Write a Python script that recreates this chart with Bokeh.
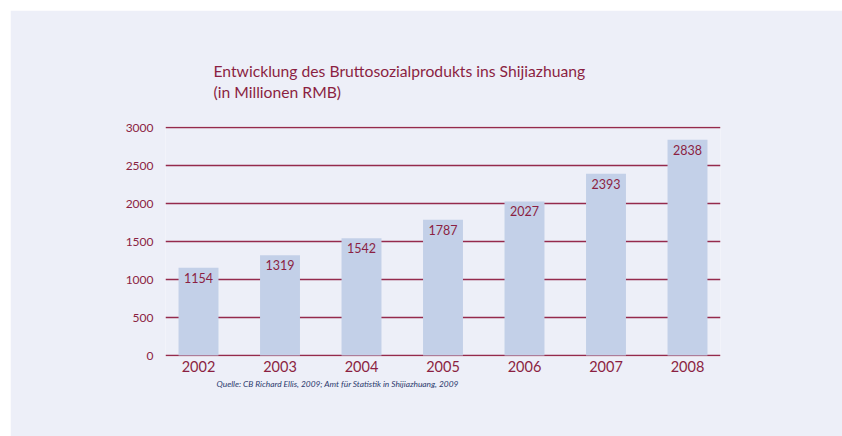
from bokeh.plotting import figure
from bokeh.models import Range1d, FixedTicker, Title
from bokeh.models import ColumnDataSource
from bokeh.core.properties import value
from bokeh.embed import file_html
from bokeh.resources import INLINE

years = [2002, 2003, 2004, 2005, 2006, 2007, 2008]
gdp = [1154, 1319, 1542, 1787, 2027, 2393, 2838]
y_ticks = [0, 500, 1000, 1500, 2000, 2500, 3000]
year_labels = [str(y) for y in years]
title_lines = ["Entwicklung des Bruttosozialprodukts ins Shijiazhuang", "(in Millionen RMB)"]
source_note = "Quelle: CB Richard Ellis, 2009; Amt für Statistik in Shijiazhuang, 2009"

BG = "#edeff8"
RED = "#8b1f42"
GRID = "#952a4c"
BAR = "#c3d0e8"
FONT = "Lato"

src = ColumnDataSource(dict(x=years, y=gdp, lab=[str(v) for v in gdp]))

pad = 500 / 38.0
p = figure(width=832, height=426, output_backend="svg", toolbar_location=None,
           x_range=Range1d(2002 - 0.405, 2008 + 0.405), y_range=Range1d(-pad, 3000 + pad),
           frame_width=555, frame_height=230,
           min_border_left=155, min_border_right=122, min_border_top=116, min_border_bottom=80)
p.margin = (10, 0, 0, 10)
p.background_fill_color = BG
p.border_fill_color = BG
p.outline_line_color = None

p.vbar(x="x", top="y", bottom=0, width=0.49, source=src, fill_color=BAR, line_color=None)
p.text(x="x", y="y", text="lab", source=src, y_offset=5, text_align="center",
       text_baseline="top", text_font=value(FONT), text_font_size="12.5px", text_color=RED)

p.xgrid.visible = False
p.ygrid.ticker = FixedTicker(ticks=y_ticks)
p.ygrid.grid_line_color = GRID
p.ygrid.grid_line_width = 1.6
p.ygrid.level = "underlay"

p.yaxis.ticker = FixedTicker(ticks=y_ticks)
p.yaxis.axis_line_color = None
p.yaxis.major_tick_line_color = None
p.yaxis.minor_tick_line_color = None
p.yaxis.major_label_standoff = 6
p.yaxis.major_label_text_color = RED
p.yaxis.major_label_text_font = FONT
p.yaxis.major_label_text_font_size = "12px"

p.xaxis.ticker = FixedTicker(ticks=years)
p.xaxis.major_label_overrides = {y: l for y, l in zip(years, year_labels)}
p.xaxis.axis_line_color = None
p.xaxis.major_tick_line_color = None
p.xaxis.minor_tick_line_color = None
p.xaxis.major_label_standoff = -2
p.xaxis.major_label_text_color = RED
p.xaxis.major_label_text_font = FONT
p.xaxis.major_label_text_font_size = "14.5px"

title = Title(text="\n".join(title_lines), align="left", offset=48, text_font=FONT,
              text_font_size="15.7px", text_font_style="normal", text_color=RED,
              text_line_height=1.2, standoff=50)
p.add_layout(title, "above")

note = Title(text=source_note, align="left", offset=51, text_font=FONT, text_font_size="8.4px",
             text_font_style="italic", text_color="#2c3a6e", standoff=4)
p.add_layout(note, "below")

open("out.html", "w").write(file_html(p, INLINE))
